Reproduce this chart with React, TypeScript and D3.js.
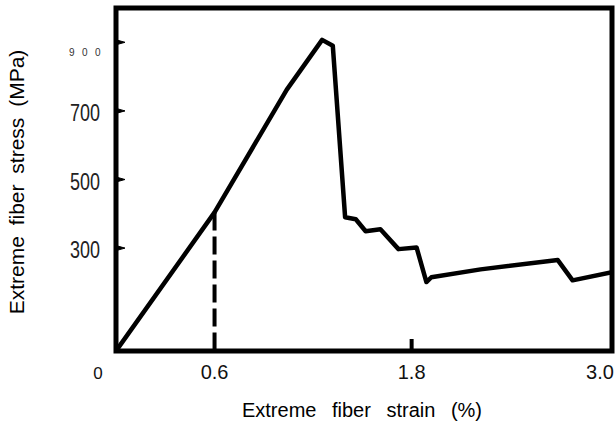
import React from 'react';
import * as d3 from 'd3';

// strain (%) and stress (MPa)
const strain = [0, 0.6, 1.04, 1.255, 1.32, 1.395, 1.46, 1.52, 1.61, 1.72, 1.83, 1.89, 1.92, 2.22, 2.69, 2.78, 3.02];
const stress = [0, 404, 762, 907, 890, 390, 384, 349, 355, 297, 302, 201, 215, 238, 265, 206, 230];

const xTicks = [0, 0.6, 1.8, 3.0];
const xTickLabels = ['0', '0.6', '1.8', '3.0'];
const yTicks = [300, 500, 700, 900];
const yTickLabels = ['300', '500', '700', '9 0 0'];
const dashedAt = 0.6;

export default function App() {
  const left = 116, right = 612, top = 8, bottom = 351;

  const x = d3.scaleLinear().domain([0, 3.02]).range([left, right]);
  const y = d3.scaleLinear().domain([0, 1000]).range([bottom, top]);

  const pts: [number, number][] = strain.map((s, i) => [s, stress[i]]);
  const line = d3.line<[number, number]>()
    .x(d => x(d[0]))
    .y(d => y(d[1]));

  const dashTop = y(stress[strain.indexOf(dashedAt)]);

  return (
    <svg width={615} height={421} style={{ position: 'absolute', left: 0, top: 0, background: '#fff' }}>
      <defs>
        <clipPath id="plot">
          <rect x={left} y={top} width={right - left} height={bottom - top} />
        </clipPath>
      </defs>

      {/* curve */}
      <path d={line(pts) || ''} fill="none" stroke="#000" strokeWidth={4.5}
        strokeLinejoin="round" clipPath="url(#plot)" />

      {/* dashed drop line at 0.6 */}
      <line x1={x(dashedAt)} x2={x(dashedAt)} y1={dashTop} y2={bottom}
        stroke="#000" strokeWidth={4} strokeDasharray="18 6" />

      {/* frame */}
      <rect x={left} y={top} width={right - left} height={bottom - top}
        fill="none" stroke="#000" strokeWidth={5} />

      {/* y ticks pointing inward */}
      {yTicks.map(t => (
        <path key={t} d={`M${left},${y(t) - 2.5} L${left + 9},${y(t)} L${left},${y(t) + 2.5} Z`}
          fill="#000" stroke="#000" strokeWidth={1} />
      ))}
      {/* x tick at 1.8 */}
      <line x1={x(1.8)} x2={x(1.8)} y1={bottom} y2={bottom - 12} stroke="#000" strokeWidth={4} />

      {/* y tick labels */}
      {yTicks.map((t, i) => t === 900 ? (
        <text key={t} x={69} y={y(t) + 14} fontFamily="Liberation Sans, Arial, sans-serif"
          fontSize={10} fill="#333" letterSpacing={2.3}>{yTickLabels[i]}</text>
      ) : (
        <text key={t} x={70} y={y(t) + 10} textLength={30} lengthAdjust="spacingAndGlyphs"
          fontFamily="Liberation Sans, Arial, sans-serif" fontSize={24} fill="#222">{yTickLabels[i]}</text>
      ))}

      {/* x tick labels */}
      {xTicks.map((t, i) => (
        <text key={t} x={t === 0 ? 98 : t === 3.0 ? 600 : x(t)} y={379} textAnchor="middle"
          fontFamily="Liberation Sans, Arial, sans-serif" fontSize={t === 0 ? 17 : 20} fill="#111">{xTickLabels[i]}</text>
      ))}

      {/* axis titles */}
      <text x={362} y={417} textAnchor="middle" fontFamily="Liberation Sans, Arial, sans-serif"
        fontSize={20} wordSpacing={10} fill="#000">Extreme fiber strain (%)</text>
      <text transform={`translate(24,182) rotate(-90)`} textAnchor="middle"
        fontFamily="Liberation Sans, Arial, sans-serif" fontSize={21} wordSpacing={5} fill="#000">
        Extreme fiber stress (MPa)
      </text>
    </svg>
  );
}
